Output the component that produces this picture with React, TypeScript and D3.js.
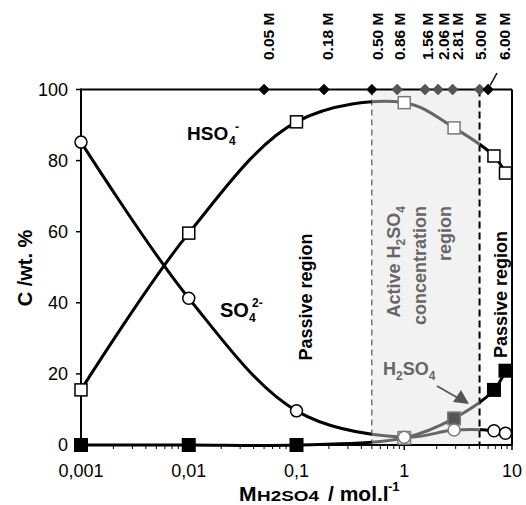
import React from "react";
import * as d3 from "d3";

const concentrations = [0.001, 0.01, 0.1, 1, 2.9, 6.8, 8.7];
const hso4Values = [15.5, 59.6, 90.9, 96.3, 89.2, 81.3, 76.5];
const so4Values = [85.2, 41.3, 9.6, 2.2, 4.2, 4.0, 3.3];
const h2so4Values = [0, 0, 0, 2.0, 7.5, 15.5, 20.9];

const topMolarities = [0.05, 0.18, 0.5, 0.86, 1.56, 2.06, 2.81, 5.0, 6.0];
const topLabels = ["0.05 M", "0.18 M", "0.50 M", "0.86 M", "1.56 M", "2.06 M", "2.81 M", "5.00 M", "6.00 M"];
const topLabelShift = [4, 3, 6, 2, 2, 5, 5, 1, 16];

const xTicks = [0.001, 0.01, 0.1, 1, 10];
const xTickLabels = ["0,001", "0,01", "0,1", "1", "10"];
const yTicks = [0, 20, 40, 60, 80, 100];

const activeRange = [0.5, 5];

const W = 526;
const H = 505;
const FONT = "'Liberation Sans', Arial, sans-serif";
const GREY = "#666666";
const GREY_MARK = "#7a7a7a";

export default function App() {
  const xs = d3.scaleLog().domain([0.001, 10]).range([81, 512]);
  const ys = d3.scaleLinear().domain([0, 100]).range([445, 89.5]);
  const x0 = xs(activeRange[0]);
  const x1 = xs(activeRange[1]);
  const yTop = ys(100);
  const yBot = ys(0);

  const line = d3
    .line<[number, number]>()
    .x((d) => xs(d[0]))
    .y((d) => ys(d[1]))
    .curve(d3.curveCatmullRom.alpha(0.5));

  const series = [hso4Values, so4Values, h2so4Values].map((vals) =>
    line(concentrations.map((c, i) => [c, vals[i]] as [number, number])) as string
  );

  const inActive = (c: number) => c >= activeRange[0] && c <= activeRange[1];

  const minorTicks: number[] = [];
  for (let e = -3; e < 1; e++) {
    for (let k = 2; k <= 9; k++) minorTicks.push(k * Math.pow(10, e));
  }

  const sq = 12;
  const fsq = 12.5;

  return (
    <svg width={W} height={H} style={{ position: "absolute", left: 0, top: 0, background: "#fff" }} fontFamily={FONT}>
      <defs>
        <clipPath id="clipBlack">
          <rect x={0} y={0} width={x0} height={H} />
          <rect x={x1} y={0} width={W - x1} height={H} />
        </clipPath>
        <clipPath id="clipGrey">
          <rect x={x0} y={0} width={x1 - x0} height={H} />
        </clipPath>
      </defs>

      {/* active region */}
      <rect x={x0} y={yTop} width={x1 - x0} height={yBot - yTop} fill="#f2f2f2" />
      <line x1={x0} x2={x0} y1={yTop} y2={yBot} stroke="#555" strokeWidth={1.2} strokeDasharray="6,4" />
      <line x1={x1} x2={x1} y1={yTop} y2={yBot} stroke="#000" strokeWidth={2} strokeDasharray="7,4" />

      {/* frame */}
      <line x1={xs(0.001)} x2={xs(10)} y1={yTop} y2={yTop} stroke="#000" strokeWidth={2} />
      <line x1={xs(10)} x2={xs(10)} y1={yTop} y2={yBot} stroke="#000" strokeWidth={2} />
      <line x1={xs(0.001)} x2={xs(0.001)} y1={yTop - 1} y2={yBot + 1} stroke="#000" strokeWidth={2} />
      <line x1={xs(0.001)} x2={xs(10)} y1={yBot} y2={yBot} stroke="#000" strokeWidth={2} />

      {/* y ticks */}
      {yTicks.map((t) => (
        <g key={"yt" + t}>
          <line x1={xs(0.001) - 5} x2={xs(0.001)} y1={ys(t)} y2={ys(t)} stroke="#000" strokeWidth={1.5} />
          <text x={68} y={ys(t)} dy="0.36em" textAnchor="end" fontSize={18}>
            {t}
          </text>
        </g>
      ))}

      {/* x ticks */}
      {minorTicks.map((t, i) => (
        <line key={"mt" + i} x1={xs(t)} x2={xs(t)} y1={yBot} y2={yBot + 4} stroke="#000" strokeWidth={1} />
      ))}
      {xTicks.map((t, i) => (
        <g key={"xt" + i}>
          <line x1={xs(t)} x2={xs(t)} y1={yBot} y2={yBot + 5} stroke="#000" strokeWidth={1.5} />
          <text x={xs(t)} y={477} textAnchor="middle" fontSize={18}>
            {xTickLabels[i]}
          </text>
        </g>
      ))}

      {/* series lines */}
      <g fill="none" strokeWidth={3} strokeLinejoin="round">
        <g clipPath="url(#clipBlack)" stroke="#000">
          {series.map((p, i) => (
            <path key={"b" + i} d={p} />
          ))}
        </g>
        <g clipPath="url(#clipGrey)" stroke={GREY}>
          {series.map((p, i) => (
            <path key={"g" + i} d={p} />
          ))}
        </g>
      </g>

      {/* H2SO4 filled squares */}
      {concentrations.map((c, i) => {
        const act = inActive(c);
        const fill = act ? (h2so4Values[i] > 4 ? "#555" : "#fff") : "#000";
        return (
          <rect
            key={"h2" + i}
            x={xs(c) - fsq / 2}
            y={ys(h2so4Values[i]) - fsq / 2}
            width={fsq}
            height={fsq}
            fill={fill}
            stroke={act ? GREY_MARK : "#000"}
            strokeWidth={1.5}
          />
        );
      })}
      {/* HSO4 open squares */}
      {concentrations.map((c, i) => (
        <rect
          key={"hs" + i}
          x={xs(c) - sq / 2}
          y={ys(hso4Values[i]) - sq / 2}
          width={sq}
          height={sq}
          fill="#fff"
          stroke={inActive(c) ? GREY_MARK : "#000"}
          strokeWidth={1.5}
        />
      ))}
      {/* SO4 open circles */}
      {concentrations.map((c, i) => (
        <circle
          key={"so" + i}
          cx={xs(c)}
          cy={ys(so4Values[i])}
          r={6}
          fill="#fff"
          stroke={inActive(c) ? GREY_MARK : "#000"}
          strokeWidth={1.5}
        />
      ))}

      {/* top diamonds and labels */}
      {topMolarities.map((m, i) => {
        const cx = xs(m);
        const cy = yTop;
        const act = m >= activeRange[0] && m <= activeRange[1];
        const d = 5.5;
        return (
          <g key={"dm" + i}>
            <path
              d={`M${cx},${cy - d}L${cx + d},${cy}L${cx},${cy + d}L${cx - d},${cy}Z`}
              fill={act && m > 0.6 ? "#555" : "#000"}
              stroke={act ? "#444" : "#000"}
              strokeWidth={0.5}
            />
            <text
              transform={`translate(${cx + topLabelShift[i]},60) rotate(-90)`}
              dy="0.36em"
              fontSize={15.5}
              fontWeight="bold"
            >
              {topLabels[i]}
            </text>
          </g>
        );
      })}
      <line x1={xs(6.0) + 2} y1={yTop - 4} x2={497} y2={73} stroke="#000" strokeWidth={1.5} />

      {/* labels */}
      <text x={187} y={140} fontSize={19} fontWeight="bold">
        HSO
      </text>
      <text x={229} y={145} fontSize={12} fontWeight="bold">4</text>
      <text x={235} y={131} fontSize={12} fontWeight="bold">-</text>

      <text x={220} y={317} fontSize={20} fontWeight="bold">
        SO
      </text>
      <text x={249} y={322} fontSize={12} fontWeight="bold">4</text>
      <text x={252} y={307} fontSize={12} fontWeight="bold">2-</text>

      <text transform="translate(306,297) rotate(-90)" dy="0.36em" textAnchor="middle" fontSize={18} fontWeight="bold">
        Passive region
      </text>
      <text transform="translate(501,358) rotate(-90)" dy="0.36em" textAnchor="start" fontSize={18} fontWeight="bold">
        Passive region
      </text>

      <g fill={GREY} fontWeight="bold" fontSize={18}>
        <text transform="translate(394,206) rotate(-90)" dy="0.36em" textAnchor="end">
          Active H<tspan fontSize={12} dy="5">2</tspan>
          <tspan dy="-5">SO</tspan>
          <tspan fontSize={12} dy="5">4</tspan>
        </text>
        <text transform="translate(420,206) rotate(-90)" dy="0.36em" textAnchor="end">
          concentration
        </text>
        <text transform="translate(445,206) rotate(-90)" dy="0.36em" textAnchor="end">
          region
        </text>
        <text x={383} y={375}>
          H<tspan fontSize={12} dy="5">2</tspan>
          <tspan dy="-5">SO</tspan>
          <tspan fontSize={12} dy="5">4</tspan>
        </text>
      </g>
      {/* arrow */}
      <line x1={437} y1={386} x2={458} y2={398} stroke="#555" strokeWidth={1.8} />
      <path d="M469,404 L453,402 L461,390 Z" fill="#555" />

      {/* axis titles */}
      <text transform="translate(25,268) rotate(-90)" dy="0.36em" textAnchor="middle" fontSize={20} fontWeight="bold">
        C /wt. %
      </text>
      <text x={239} y={501} fontSize={21} fontWeight="bold">M</text>
      <text x={257} y={501} fontSize={14} fontWeight="bold" textLength={62} lengthAdjust="spacingAndGlyphs">
        H2SO4
      </text>
      <text x={328} y={501} fontSize={21} fontWeight="bold">
        / mol.l
      </text>
      <text x={388} y={491} fontSize={13} fontWeight="bold">-1</text>
    </svg>
  );
}
